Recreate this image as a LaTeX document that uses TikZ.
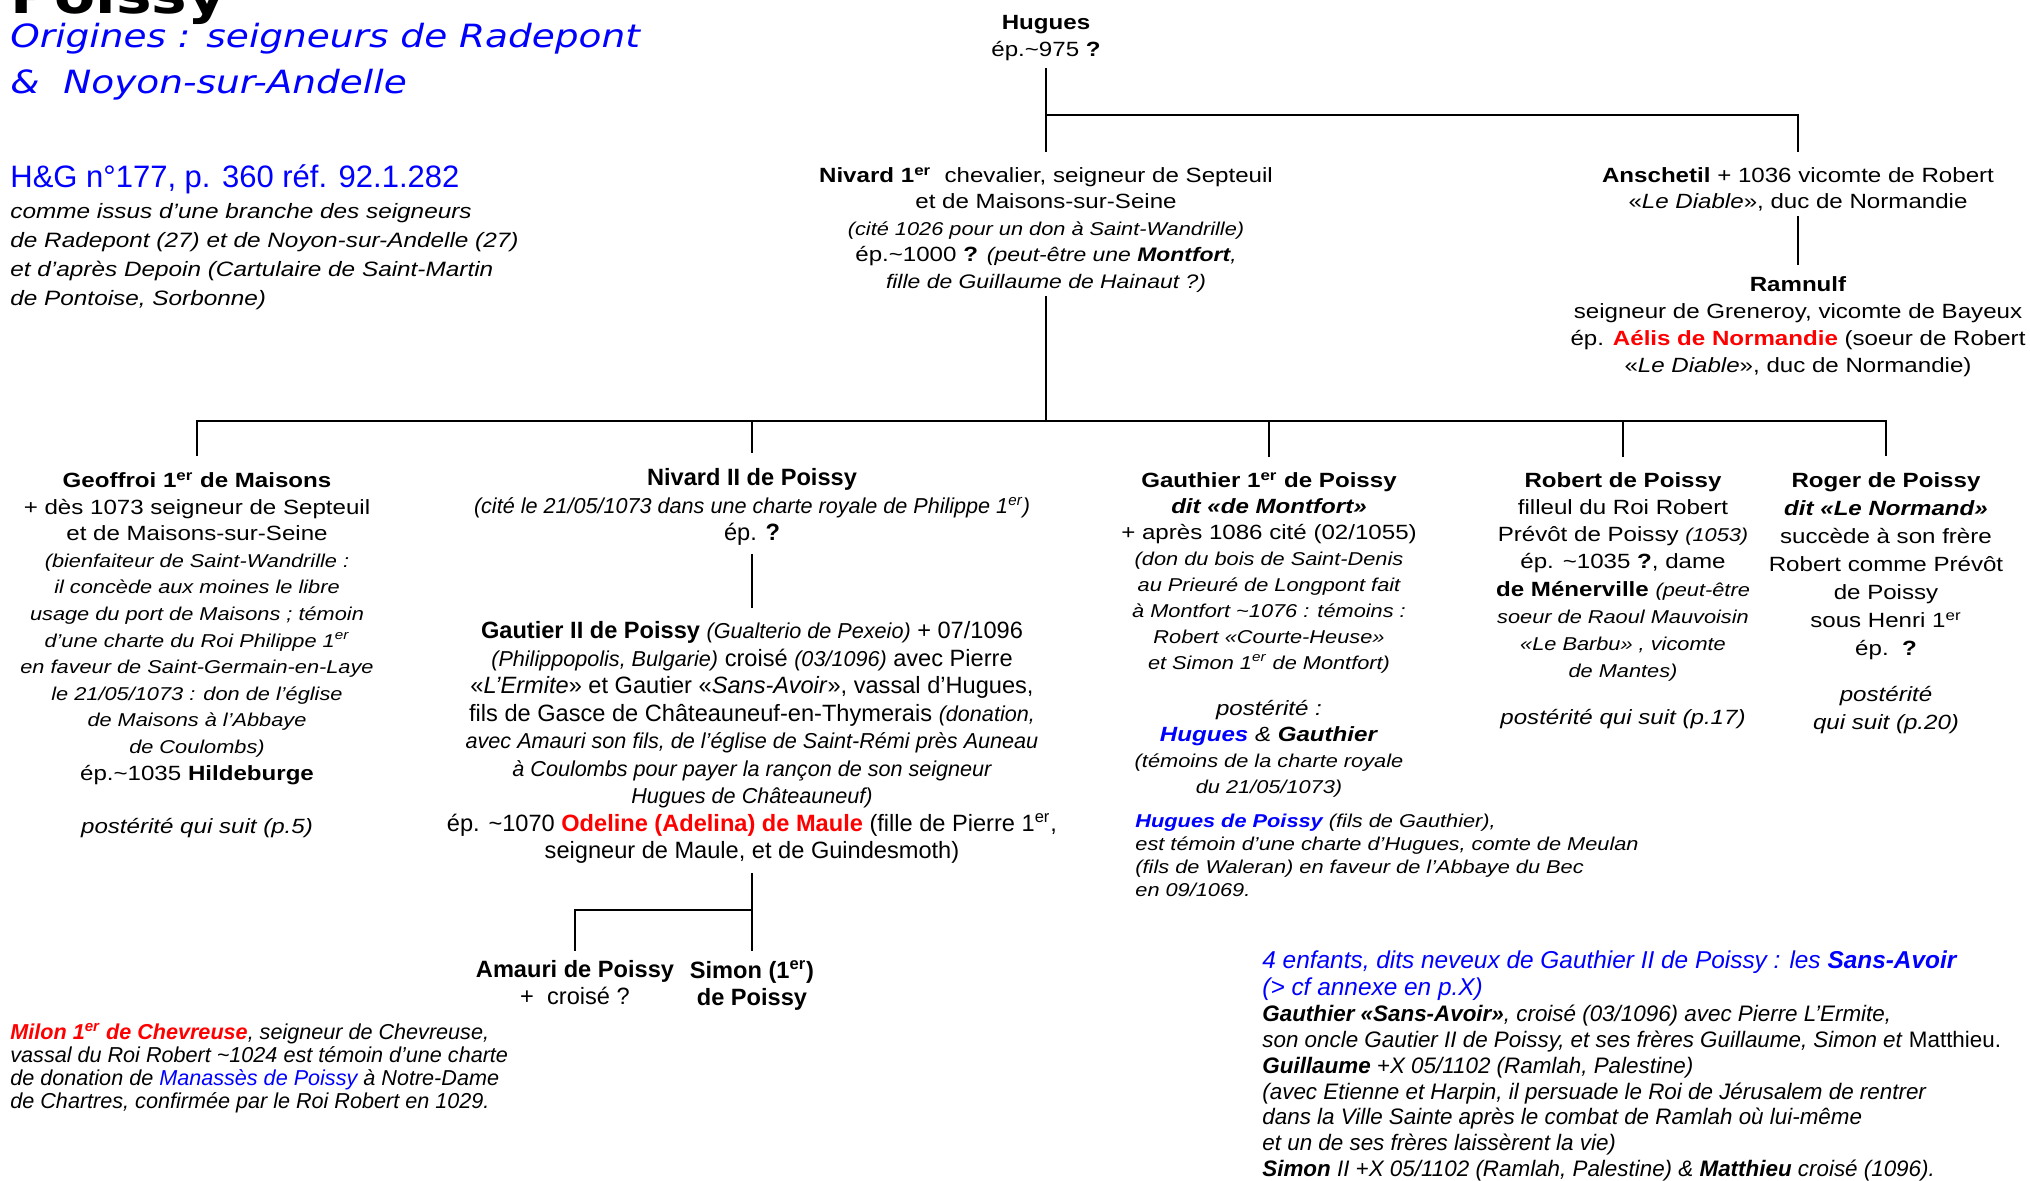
\documentclass[tikz,border=0pt]{standalone}
\usepackage{fontspec}
\setmainfont[FakeStretch=1.17]{Liberation Sans}
\newfontfamily\narrowfont{Liberation Sans}
\newfontfamily\titlefont[FakeStretch=1.17]{DejaVu Sans}
\usetikzlibrary{positioning}

\definecolor{hgblue}{RGB}{0,0,255}
\definecolor{hgred}{RGB}{255,0,0}

\newcommand\er{\textsuperscript{er}}
\newcommand\nt[1]{{\fontsize{9.3}{13}\selectfont\itshape #1}}
\newcommand\ntn[1]{{\fontsize{10.8}{13}\selectfont\itshape #1}}
\newcommand\wife[1]{\textcolor{hgred}{\textbf{#1}}}

\begin{document}
\begin{tikzpicture}[
	x=0.5pt, y=-0.5pt,
	person/.style = {align=center, inner sep=0pt, anchor=north, font=\fontsize{10.3}{13.3}\selectfont},
	narrowperson/.style = {person, font=\narrowfont\fontsize{11.8}{13.75}\selectfont},
	remark/.style = {align=left, inner sep=0pt, anchor=north west, font=\fontsize{9.3}{11.5}\selectfont\itshape},
	tie/.style = {line width=1.3pt}
]
\useasboundingbox (0,0) rectangle (2030,1180);

% en-tete
\node[anchor=base west, inner sep=0pt, font=\titlefont\bfseries\fontsize{25.6}{30}\selectfont] (title) at (10,13) {Poissy};
\node[anchor=north west, inner sep=0pt, align=left, text=hgblue, font=\titlefont\itshape\fontsize{16}{23}\selectfont] (origins) at (10,23) {Origines : seigneurs de Radepont\\ \&\ \ Noyon-sur-Andelle};
\node[anchor=north west, inner sep=0pt, text=hgblue, font=\narrowfont\fontsize{15.5}{18}\selectfont] (hgref) at (10,164) {H\&G n°177, p. 360 réf. 92.1.282};
\node[remark, font=\fontsize{10.4}{14.5}\selectfont\itshape] (hgnote) at (10,203) {comme issus d'une branche des seigneurs\\ de Radepont (27) et de Noyon-sur-Andelle (27)\\ et d’après Depoin (Cartulaire de Saint-Martin\\ de Pontoise, Sorbonne)};

% generations
\scoped[every node/.style = {person}]
{
\node (hugues) at (1046,15) {\textbf{Hugues}\\ ép.\textasciitilde975 \textbf{?}};
\node[font=\fontsize{10.3}{13.25}\selectfont] (nivard1) at (1046,167) {\textbf{Nivard 1\er}\ \ chevalier, seigneur de Septeuil\\ et de Maisons-sur-Seine\\ \nt{(cité 1026 pour un don à Saint-Wandrille)}\\ ép.\textasciitilde1000 \textbf{?} {\fontsize{9.8}{13}\selectfont\itshape (peut-être une \textbf{Montfort},}\\ {\fontsize{9.8}{13}\selectfont\itshape fille de Guillaume de Hainaut ?)}};
\node (anschetil) at (1798,167) {\textbf{Anschetil} + 1036 vicomte de Robert\\ «\textit{Le Diable}», duc de Normandie};
\node[font=\fontsize{10.3}{13.5}\selectfont] (ramnulf) at (1798,276) {\textbf{Ramnulf}\\ seigneur de Greneroy, vicomte de Bayeux\\ ép. \wife{Aélis de Normandie} (soeur de Robert\\ «\textit{Le Diable}», duc de Normandie)};

\node (geoffroi) at (197,472) {\textbf{Geoffroi 1\er\ de Maisons}\\ + dès 1073 seigneur de Septeuil\\ et de Maisons-sur-Seine\\ \nt{(bienfaiteur de Saint-Wandrille :}\\ \nt{il concède aux moines le libre}\\ \nt{usage du port de Maisons ; témoin}\\ \nt{d’une charte du Roi Philippe 1\er}\\ \nt{en faveur de Saint-Germain-en-Laye}\\ \nt{le 21/05/1073 : don de l’église}\\ \nt{de Maisons à l’Abbaye}\\ \nt{de Coulombs)}\\ ép.\textasciitilde1035 \textbf{Hildeburge}\\[13.3pt] \textit{postérité qui suit (p.5)}};
\node[narrowperson] (nivard2) at (752,468) {\textbf{Nivard II de Poissy}\\ \ntn{(cité le 21/05/1073 dans une charte royale de Philippe 1\er)}\\ ép. \textbf{?}};
\node[narrowperson] (gautier2) at (752,621) {\textbf{Gautier II de Poissy} \ntn{(Gualterio de Pexeio)} + 07/1096\\ \ntn{(Philippopolis, Bulgarie)} croisé \ntn{(03/1096)} avec Pierre\\ «\textit{L’Ermite}» et Gautier «\textit{Sans-Avoir}», vassal d’Hugues,\\ fils de Gasce de Châteauneuf-en-Thymerais \ntn{(donation,}\\ \ntn{avec Amauri son fils, de l’église de Saint-Rémi près Auneau}\\ \ntn{à Coulombs pour payer la rançon de son seigneur}\\ \ntn{Hugues de Châteauneuf)}\\ ép. \textasciitilde1070 \wife{Odeline (Adelina) de Maule} (fille de Pierre 1\er,\\ seigneur de Maule, et de Guindesmoth)};
\node[narrowperson, font=\narrowfont\fontsize{11.8}{13.5}\selectfont] (amauri) at (575,960) {\textbf{Amauri de Poissy}\\ +\ \ croisé ?};
\node[narrowperson, font=\narrowfont\fontsize{11.8}{13.5}\selectfont] (simon) at (752,960) {\textbf{Simon (1\er)}\\ \textbf{de Poissy}};
\node[font=\fontsize{10.3}{13}\selectfont] (gauthier1) at (1269,472) {\textbf{Gauthier 1\er\ de Poissy}\\ \textbf{\textit{dit «de Montfort»}}\\ + après 1086 cité (02/1055)\\ \nt{(don du bois de Saint-Denis}\\ \nt{au Prieuré de Longpont fait}\\ \nt{à Montfort \textasciitilde1076 : témoins :}\\ \nt{Robert «Courte-Heuse»}\\ \nt{et Simon 1\er\ de Montfort)}\\[10pt] \textit{postérité :}\\ \textit{\textbf{\textcolor{hgblue}{Hugues}} \& \textbf{Gauthier}}\\ \nt{(témoins de la charte royale}\\ \nt{du 21/05/1073)}};
\node[font=\fontsize{10.3}{13.6}\selectfont] (robert) at (1623,472) {\textbf{Robert de Poissy}\\ filleul du Roi Robert\\ Prévôt de Poissy \nt{(1053)}\\ ép. \textasciitilde1035 \textbf{?}, dame\\ \textbf{de Ménerville} \nt{(peut-être}\\ \nt{soeur de Raoul Mauvoisin}\\ \nt{«Le Barbu» , vicomte}\\ \nt{de Mantes)}\\[10pt] \textit{postérité qui suit (p.17)}};
\node[font=\fontsize{10.3}{14}\selectfont] (roger) at (1886,472) {\textbf{Roger de Poissy}\\ \textbf{\textit{dit «Le Normand»}}\\ succède à son frère\\ Robert comme Prévôt\\ de Poissy\\ sous Henri 1\er\\ ép.\ \ \textbf{?}\\[9pt] \textit{postérité}\\ \textit{qui suit (p.20)}};
}

% notes
\node[remark] (hpnote) at (1135,814) {\textbf{\textcolor{hgblue}{Hugues de Poissy}} (fils de Gauthier),\\ est témoin d’une charte d’Hugues, comte de Meulan\\ (fils de Waleran) en faveur de l’Abbaye du Bec\\ en 09/1069.};
\node[remark, font=\narrowfont\fontsize{10.8}{11.5}\selectfont\itshape] (milon) at (10,1023) {\textcolor{hgred}{\textbf{Milon 1\er\ de Chevreuse}}, seigneur de Chevreuse,\\ vassal du Roi Robert \textasciitilde1024 est témoin d’une charte\\ de donation de \textcolor{hgblue}{Manassès de Poissy} à Notre-Dame\\ de Chartres, confirmée par le Roi Robert en 1029.};
\node[remark, font=\narrowfont\fontsize{11.2}{12.9}\selectfont\itshape] (sansavoir) at (1262,950) {{\fontsize{12.2}{13}\selectfont\textcolor{hgblue}{4 enfants, dits neveux de Gauthier II de Poissy : les \textbf{Sans-Avoir}}}\\[1pt] {\fontsize{12.2}{13}\selectfont\textcolor{hgblue}{(> cf annexe en p.X)}}\\ \textbf{Gauthier «Sans-Avoir»}, croisé (03/1096) avec Pierre L’Ermite,\\ son oncle Gautier II de Poissy, et ses frères Guillaume, Simon et \textup{Matthieu.}\\ \textbf{Guillaume} +X 05/1102 (Ramlah, Palestine)\\ (avec Etienne et Harpin, il persuade le Roi de Jérusalem de rentrer\\ dans la Ville Sainte après le combat de Ramlah où lui-même\\ et un de ses frères laissèrent la vie)\\ \textbf{Simon} II +X 05/1102 (Ramlah, Palestine) \& \textbf{Matthieu} croisé (1096).};

% liens
\coordinate (fork0) at (1046,115);
\coordinate (fork1) at (1046,421);
\coordinate (fork2) at (752,910);

\draw[tie, shorten <=3.5pt, shorten >=7.5pt] (hugues.south) -- (nivard1.north);
\draw[tie, shorten >=7.5pt] (fork0) -| (anschetil.north);
\draw[tie, shorten <=2pt, shorten >=5.5pt] (anschetil.south) -- (ramnulf.north);
\draw[tie, shorten <=1.5pt] (nivard1.south) -- (fork1);
\draw[tie, shorten <=8pt, shorten >=8pt] (geoffroi.north) |- (fork1) -| (roger.north);
\foreach \kid in {nivard2, gauthier1, robert}
	\draw[tie, shorten <=7.5pt] (\kid.north) -- (\kid.north |- fork1);
\draw[tie, shorten <=4pt, shorten >=6.5pt] (nivard2.south) -- (gautier2.north);
\draw[tie, shorten <=4.5pt, shorten >=4.5pt] (gautier2.south) -- (simon.north);
\draw[tie, shorten >=4.5pt] (fork2) -| (amauri.north);

\end{tikzpicture}
\end{document}
